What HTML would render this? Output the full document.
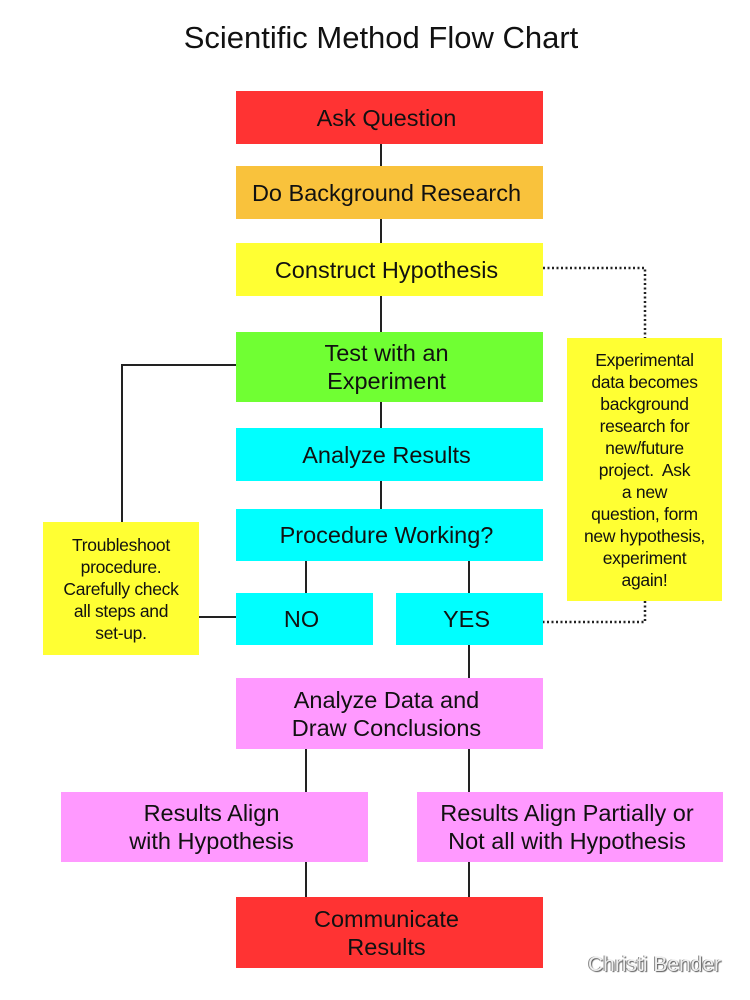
<!DOCTYPE html>
<html><head><meta charset="utf-8"><style>
body{margin:0;width:750px;height:1000px;background:#fff;position:relative;overflow:hidden;font-family:"Liberation Sans",sans-serif;color:#111}
.b{position:absolute;display:flex;align-items:center;justify-content:center;text-align:center;font-size:23.5px;line-height:28px;box-sizing:border-box;padding-right:6px}
.s{font-size:17.5px;line-height:22px;letter-spacing:-0.3px;padding-right:0}
.title{position:absolute;left:0;width:762px;top:20px;text-align:center;font-size:31px}
</style></head><body>
<div class="title">Scientific Method Flow Chart</div>
<svg style="position:absolute;left:0;top:0" width="750" height="1000">
<g stroke="#222" stroke-width="2" fill="none">
<path d="M381 144V166M381 219V243M381 296V332M381 402V428M381 481V509M306 561V593M469 561V593M469 645V678M306 749V792M469 749V792M306 862V897M469 862V897"/>
<path d="M236 365H122V522M199 617H236"/>
</g>
<g stroke="#222" stroke-width="2.5" stroke-dasharray="2 2.5" fill="none">
<path d="M543 268H645V338M645 601V622H543"/>
</g>
</svg>
<div class="b" style="left:236px;top:91px;width:307px;height:53px;background:#ff3333">Ask Question</div>
<div class="b" style="left:236px;top:166px;width:307px;height:53px;background:#f9c23c">Do Background Research</div>
<div class="b" style="left:236px;top:243px;width:307px;height:53px;background:#ffff33">Construct Hypothesis</div>
<div class="b" style="left:236px;top:332px;width:307px;height:70px;background:#70ff33">Test with an<br>Experiment</div>
<div class="b" style="left:236px;top:428px;width:307px;height:53px;background:#00ffff">Analyze Results</div>
<div class="b" style="left:236px;top:509px;width:307px;height:52px;background:#00ffff">Procedure Working?</div>
<div class="b" style="left:236px;top:593px;width:137px;height:52px;background:#00ffff">NO</div>
<div class="b" style="left:396px;top:593px;width:147px;height:52px;background:#00ffff">YES</div>
<div class="b" style="left:236px;top:678px;width:307px;height:71px;background:#ff99ff">Analyze Data and<br>Draw Conclusions</div>
<div class="b" style="left:61px;top:792px;width:307px;height:70px;background:#ff99ff">Results Align<br>with Hypothesis</div>
<div class="b" style="left:417px;top:792px;width:306px;height:70px;background:#ff99ff">Results Align Partially or<br>Not all with Hypothesis</div>
<div class="b" style="left:236px;top:897px;width:307px;height:71px;background:#ff3333">Communicate<br>Results</div>
<div class="b s" style="left:43px;top:522px;width:156px;height:133px;background:#ffff33">Troubleshoot<br>procedure.<br>Carefully check<br>all steps and<br>set-up.</div>
<div class="b s" style="left:567px;top:338px;width:155px;height:263px;background:#ffff33">Experimental<br>data becomes<br>background<br>research for<br>new/future<br>project.&nbsp; Ask<br>a new<br>question, form<br>new hypothesis,<br>experiment<br>again!</div>
<div style="position:absolute;left:588px;top:953px;font-size:21px;color:#eee;text-shadow:1px 1px 1px #555,-1px 0 0 #888">Christi Bender</div>
</body></html>
